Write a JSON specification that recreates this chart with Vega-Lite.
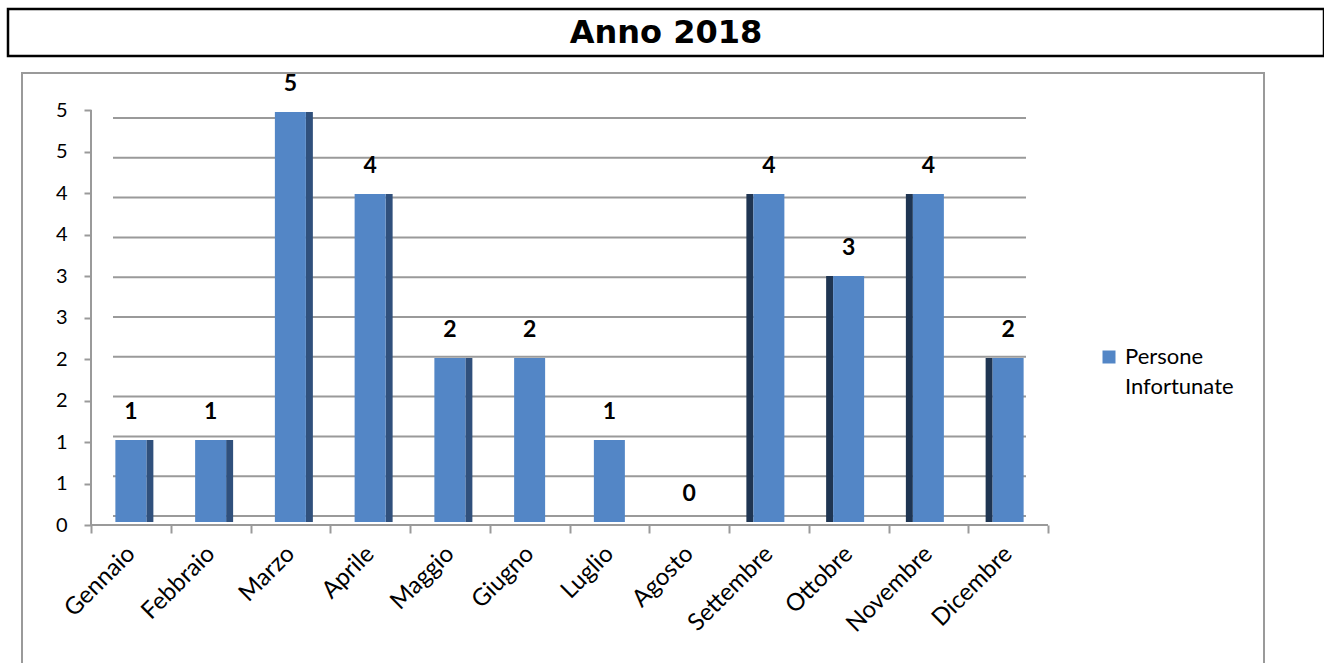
{
  "$schema": "https://vega.github.io/schema/vega-lite/v6.json",
  "background": "white",
  "padding": {"left": 6, "top": 7, "right": 0, "bottom": 0},
  "spacing": 13,
  "config": {
    "font": "Lato",
    "axis": {"labelFont": "Lato", "labelColor": "#000000"},
    "legend": {"labelFont": "Lato", "labelColor": "#000000"},
    "style": {"guide-label": {"lineHeight": 30}}
  },
  "vconcat": [
    {
      "width": 1316,
      "height": 47,
      "view": {"stroke": "#000000", "strokeWidth": 2.5},
      "data": {"values": [{"titolo": "Anno 2018"}]},
      "mark": {"type": "text", "font": "DejaVu Sans", "fontWeight": "bold", "fontSize": 32, "baseline": "alphabetic", "align": "center", "dy": 10, "color": "#000000"},
      "encoding": {"text": {"field": "titolo", "type": "nominal"}}
    },
    {
      "spacing": 0,
      "hconcat": [
        {
          "width": 4,
          "height": 1,
          "view": {"stroke": null},
          "data": {"values": [{"t": 0}]},
          "mark": {"type": "point", "opacity": 0, "size": 1},
          "encoding": {}
        },
        {
          "width": 1242,
          "height": 620,
          "view": {"stroke": "#9a9a9a", "strokeWidth": 2},
          "data": {
            "values": [
              {"mese": "Gennaio", "valore": 1, "serie": "Persone Infortunate"},
              {"mese": "Febbraio", "valore": 1, "serie": "Persone Infortunate"},
              {"mese": "Marzo", "valore": 5, "serie": "Persone Infortunate"},
              {"mese": "Aprile", "valore": 4, "serie": "Persone Infortunate"},
              {"mese": "Maggio", "valore": 2, "serie": "Persone Infortunate"},
              {"mese": "Giugno", "valore": 2, "serie": "Persone Infortunate"},
              {"mese": "Luglio", "valore": 1, "serie": "Persone Infortunate"},
              {"mese": "Agosto", "valore": 0, "serie": "Persone Infortunate"},
              {"mese": "Settembre", "valore": 4, "serie": "Persone Infortunate"},
              {"mese": "Ottobre", "valore": 3, "serie": "Persone Infortunate"},
              {"mese": "Novembre", "valore": 4, "serie": "Persone Infortunate"},
              {"mese": "Dicembre", "valore": 2, "serie": "Persone Infortunate"}
            ]
          },
          "resolve": {"scale": {"y": "independent"}, "axis": {"y": "independent"}},
          "layer": [
            {
              "data": {"values": [{"g": 0}, {"g": 0.5}, {"g": 1}, {"g": 1.5}, {"g": 2}, {"g": 2.5}, {"g": 3}, {"g": 3.5}, {"g": 4}, {"g": 4.5}, {"g": 5}]},
              "mark": {"type": "rule", "color": "#9a9a9a", "strokeWidth": 2, "xOffset": 22, "x2Offset": -22},
              "encoding": {
                "x": {"datum": "Gennaio", "type": "nominal", "bandPosition": 0,
                  "scale": {"type": "band", "domain": ["Gennaio", "Febbraio", "Marzo", "Aprile", "Maggio", "Giugno", "Luglio", "Agosto", "Settembre", "Ottobre", "Novembre", "Dicembre"], "paddingInner": 0, "paddingOuter": 0, "range": [69, 1026]}},
                "x2": {"datum": "Dicembre", "bandPosition": 1},
                "y": {"field": "g", "type": "quantitative", "scale": {"domain": [-2.2236, 5.5653], "nice": false, "zero": false}, "axis": null}
              }
            },
            {
              "data": {"values": [{"a": 0, "b": 5}]},
              "mark": {"type": "rule", "color": "#9a9a9a", "strokeWidth": 2},
              "encoding": {
                "x": {"datum": "Gennaio", "type": "nominal", "bandPosition": 0,
                  "scale": {"type": "band", "domain": ["Gennaio", "Febbraio", "Marzo", "Aprile", "Maggio", "Giugno", "Luglio", "Agosto", "Settembre", "Ottobre", "Novembre", "Dicembre"], "paddingInner": 0, "paddingOuter": 0, "range": [69, 1026]}},
                "y": {"field": "a", "type": "quantitative",
                  "scale": {"domain": [-2.0241, 5.4458], "nice": false, "zero": false},
                  "axis": {"orient": "left", "offset": -69, "domain": false, "grid": false, "values": [0, 0.5, 1, 1.5, 2, 2.5, 3, 3.5, 4, 4.5, 5], "format": ".0f", "tickSize": 7, "tickColor": "#9a9a9a", "tickWidth": 2, "labelPadding": 17, "labelFontSize": 20, "title": null}},
                "y2": {"field": "b"}
              }
            },
            {
              "data": {"values": [{"a": 0}]},
              "mark": {"type": "rule", "color": "#9a9a9a", "strokeWidth": 2},
              "encoding": {
                "x": {"datum": "Gennaio", "type": "nominal", "bandPosition": 0,
                  "scale": {"type": "band", "domain": ["Gennaio", "Febbraio", "Marzo", "Aprile", "Maggio", "Giugno", "Luglio", "Agosto", "Settembre", "Ottobre", "Novembre", "Dicembre"], "paddingInner": 0, "paddingOuter": 0, "range": [69, 1026]}},
                "x2": {"datum": "Dicembre", "bandPosition": 1},
                "y": {"field": "a", "type": "quantitative", "scale": {"domain": [-2.0241, 5.4458], "nice": false, "zero": false}, "axis": null}
              }
            },
            {
              "transform": [{"filter": {"field": "mese", "oneOf": ["Gennaio", "Febbraio", "Marzo", "Aprile", "Maggio"]}}],
              "mark": {"type": "bar", "width": 7, "xOffset": 19, "color": "#30507c"},
              "encoding": {
                "x": {"field": "mese", "type": "nominal",
                  "scale": {"type": "band", "domain": ["Gennaio", "Febbraio", "Marzo", "Aprile", "Maggio", "Giugno", "Luglio", "Agosto", "Settembre", "Ottobre", "Novembre", "Dicembre"], "paddingInner": 0, "paddingOuter": 0, "range": [69, 1026]}},
                "y": {"field": "valore", "type": "quantitative", "scale": {"domain": [-2.0854, 5.4756], "nice": false, "zero": false}, "axis": null},
                "y2": {"datum": 0}
              }
            },
            {
              "transform": [{"filter": {"field": "mese", "oneOf": ["Settembre", "Ottobre", "Novembre", "Dicembre"]}}],
              "mark": {"type": "bar", "width": 7, "xOffset": -19, "color": "#1f3552"},
              "encoding": {
                "x": {"field": "mese", "type": "nominal",
                  "scale": {"type": "band", "domain": ["Gennaio", "Febbraio", "Marzo", "Aprile", "Maggio", "Giugno", "Luglio", "Agosto", "Settembre", "Ottobre", "Novembre", "Dicembre"], "paddingInner": 0, "paddingOuter": 0, "range": [69, 1026]}},
                "y": {"field": "valore", "type": "quantitative", "scale": {"domain": [-2.0854, 5.4756], "nice": false, "zero": false}, "axis": null},
                "y2": {"datum": 0}
              }
            },
            {
              "mark": {"type": "bar", "width": 31},
              "encoding": {
                "x": {"field": "mese", "type": "nominal",
                  "scale": {"type": "band", "domain": ["Gennaio", "Febbraio", "Marzo", "Aprile", "Maggio", "Giugno", "Luglio", "Agosto", "Settembre", "Ottobre", "Novembre", "Dicembre"], "paddingInner": 0, "paddingOuter": 0, "range": [69, 1026]},
                  "axis": {"orient": "bottom", "offset": -168, "domain": false, "tickBand": "extent", "tickSize": 8, "tickColor": "#9a9a9a", "tickWidth": 2, "labelAngle": -45, "labelFontSize": 24, "labelPadding": 17, "title": null}},
                "y": {"field": "valore", "type": "quantitative", "scale": {"domain": [-2.0854, 5.4756], "nice": false, "zero": false}, "axis": null},
                "y2": {"datum": 0},
                "color": {"field": "serie", "type": "nominal", "scale": {"range": ["#5386c6"]},
                  "legend": {"orient": "none", "legendX": 1090, "legendY": 337, "title": null, "symbolType": "square", "symbolSize": 169, "symbolStrokeWidth": 0, "labelFontSize": 22, "labelOffset": 5, "labelExpr": "['Persone', 'Infortunate']"}}
              }
            },
            {
              "mark": {"type": "text", "font": "Lato", "fontWeight": "bold", "fontSize": 23, "baseline": "alphabetic", "dy": -21, "color": "#000000"},
              "encoding": {
                "x": {"field": "mese", "type": "nominal",
                  "scale": {"type": "band", "domain": ["Gennaio", "Febbraio", "Marzo", "Aprile", "Maggio", "Giugno", "Luglio", "Agosto", "Settembre", "Ottobre", "Novembre", "Dicembre"], "paddingInner": 0, "paddingOuter": 0, "range": [69, 1026]}},
                "y": {"field": "valore", "type": "quantitative", "scale": {"domain": [-2.0854, 5.4756], "nice": false, "zero": false}, "axis": null},
                "text": {"field": "valore", "type": "quantitative"}
              }
            }
          ]
        }
      ]
    }
  ]
}
